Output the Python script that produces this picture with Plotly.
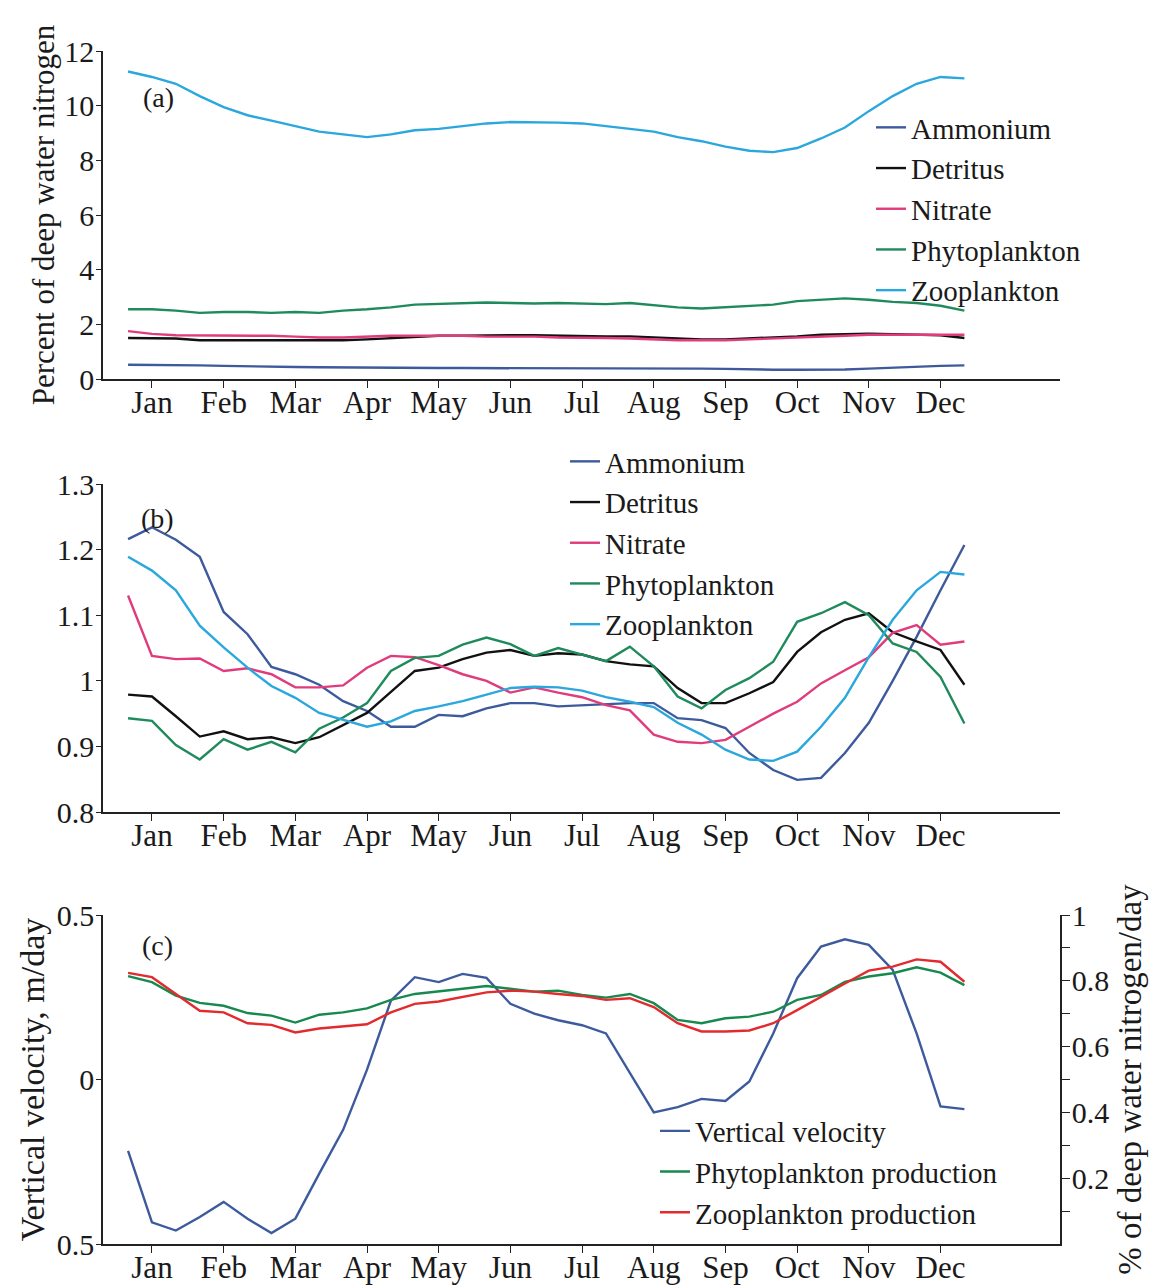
import plotly.graph_objects as go

W, H = 1159, 1288
FONT = "Liberation Serif, Times New Roman, serif"

# ---- data -------------------------------------------------------------
# 36 samples, every third of a month, starting a third of a month before Jan
n_pts = 36
x_months = [-1/3 + k/3 for k in range(n_pts)]
month_labels = ["Jan", "Feb", "Mar", "Apr", "May", "Jun",
                "Jul", "Aug", "Sep", "Oct", "Nov", "Dec"]
month_pos = list(range(12))

# Panel (a): percent of deep water nitrogen
a_ammonium = [0.52, 0.52, 0.50, 0.50, 0.48, 0.46, 0.45, 0.44, 0.43, 0.42, 0.41, 0.40,
              0.40, 0.40, 0.40, 0.40, 0.40, 0.40, 0.40, 0.40, 0.40, 0.39, 0.39, 0.38,
              0.38, 0.37, 0.35, 0.34, 0.34, 0.34, 0.35, 0.38, 0.42, 0.45, 0.48, 0.50]
a_detritus = [1.50, 1.50, 1.48, 1.42, 1.42, 1.42, 1.42, 1.40, 1.40, 1.42, 1.45, 1.50,
              1.55, 1.58, 1.58, 1.60, 1.60, 1.60, 1.58, 1.58, 1.56, 1.56, 1.52, 1.48,
              1.45, 1.45, 1.48, 1.52, 1.56, 1.62, 1.65, 1.66, 1.64, 1.62, 1.60, 1.50]
a_nitrate = [1.75, 1.65, 1.60, 1.60, 1.58, 1.58, 1.58, 1.55, 1.52, 1.52, 1.55, 1.58,
             1.58, 1.58, 1.58, 1.55, 1.55, 1.55, 1.52, 1.52, 1.50, 1.48, 1.45, 1.42,
             1.42, 1.42, 1.45, 1.48, 1.50, 1.55, 1.58, 1.62, 1.62, 1.62, 1.60, 1.62]
a_phyto = [2.55, 2.55, 2.50, 2.42, 2.45, 2.45, 2.42, 2.45, 2.42, 2.50, 2.55, 2.62,
           2.72, 2.75, 2.78, 2.80, 2.78, 2.76, 2.78, 2.76, 2.74, 2.78, 2.70, 2.62,
           2.58, 2.62, 2.68, 2.72, 2.85, 2.90, 2.95, 2.90, 2.82, 2.78, 2.68, 2.50]
a_zoo = [11.25, 11.05, 10.80, 10.35, 9.95, 9.65, 9.45, 9.25, 9.05, 8.95, 8.85, 8.95,
         9.10, 9.15, 9.25, 9.35, 9.40, 9.40, 9.38, 9.35, 9.25, 9.15, 9.05, 8.85,
         8.70, 8.50, 8.35, 8.30, 8.45, 8.80, 9.20, 9.80, 10.35, 10.80, 11.05, 11.00]

# Panel (b): normalised values
b_ammonium = [1.216, 1.234, 1.215, 1.189, 1.105, 1.071, 1.021, 1.010, 0.994, 0.969,
              0.954, 0.930, 0.930, 0.948, 0.946, 0.958, 0.966, 0.966, 0.961, 0.963,
              0.965, 0.966, 0.966, 0.943, 0.940, 0.928, 0.890, 0.864, 0.849, 0.852,
              0.890, 0.936, 1.000, 1.067, 1.138, 1.207]
b_detritus = [0.979, 0.976, 0.946, 0.915, 0.923, 0.911, 0.914, 0.905, 0.914, 0.933,
              0.951, 0.983, 1.015, 1.020, 1.033, 1.043, 1.047, 1.038, 1.042, 1.040,
              1.030, 1.025, 1.022, 0.989, 0.966, 0.966, 0.981, 0.998, 1.044, 1.074,
              1.093, 1.103, 1.074, 1.060, 1.047, 0.994]
b_nitrate = [1.130, 1.038, 1.033, 1.034, 1.015, 1.019, 1.010, 0.990, 0.990, 0.993,
             1.020, 1.038, 1.036, 1.024, 1.010, 1.000, 0.982, 0.990, 0.982, 0.975,
             0.963, 0.955, 0.918, 0.907, 0.905, 0.910, 0.930, 0.950, 0.968, 0.996,
             1.016, 1.036, 1.073, 1.085, 1.055, 1.060]
b_phyto = [0.943, 0.939, 0.902, 0.880, 0.911, 0.895, 0.907, 0.891, 0.927, 0.944,
           0.966, 1.015, 1.035, 1.038, 1.055, 1.066, 1.056, 1.038, 1.050, 1.040,
           1.030, 1.052, 1.022, 0.976, 0.958, 0.986, 1.004, 1.029, 1.090, 1.103,
           1.120, 1.100, 1.057, 1.044, 1.006, 0.935]
b_zoo = [1.189, 1.168, 1.138, 1.084, 1.051, 1.020, 0.992, 0.974, 0.951, 0.941,
         0.930, 0.938, 0.954, 0.961, 0.969, 0.979, 0.989, 0.991, 0.990, 0.985,
         0.975, 0.968, 0.960, 0.936, 0.918, 0.895, 0.880, 0.878, 0.892, 0.930,
         0.974, 1.036, 1.093, 1.138, 1.166, 1.162]

# Panel (c): vertical velocity (m/day, left axis) and production (% / day, right axis)
c_velocity = [-0.217, -0.434, -0.459, -0.418, -0.372, -0.423, -0.467, -0.423, -0.286, -0.153,
              0.030, 0.240, 0.311, 0.296, 0.321, 0.309, 0.230, 0.200, 0.180, 0.165,
              0.140, 0.020, -0.100, -0.084, -0.059, -0.065, -0.006, 0.140, 0.308, 0.404,
              0.426, 0.409, 0.333, 0.140, -0.082, -0.090]
c_phyto_prod = [0.814, 0.796, 0.755, 0.733, 0.724, 0.702, 0.694, 0.673, 0.697, 0.704,
                0.716, 0.742, 0.760, 0.767, 0.776, 0.784, 0.776, 0.767, 0.770, 0.757,
                0.749, 0.760, 0.732, 0.681, 0.671, 0.686, 0.691, 0.706, 0.742, 0.757,
                0.797, 0.813, 0.823, 0.841, 0.825, 0.787]
c_zoo_prod = [0.824, 0.811, 0.760, 0.709, 0.704, 0.671, 0.666, 0.643, 0.655, 0.661,
              0.668, 0.704, 0.730, 0.737, 0.750, 0.765, 0.770, 0.767, 0.760, 0.754,
              0.742, 0.747, 0.720, 0.671, 0.646, 0.646, 0.649, 0.671, 0.711, 0.752,
              0.792, 0.831, 0.843, 0.865, 0.858, 0.797]

# ---- styling ----------------------------------------------------------
C_AMM = "#3d5b9c"
C_DET = "#111111"
C_NIT = "#e03c7c"
C_PHY = "#1f8a5c"
C_ZOO = "#2aa7dc"
C_VEL = "#3d5b9c"
C_PPR = "#17894f"
C_ZPR = "#e12b2e"
LW = 2.4
TXT = "#1a1a1a"

def px_x(p):
    return p / W

def px_y(p):
    return 1 - p / H

X0, X1 = 103, 1060
panels = {
    "a": (51, 379),
    "b": (484, 812),
    "c": (915, 1244),
}

fig = go.Figure()

series_ab = [("Ammonium", C_AMM), ("Detritus", C_DET), ("Nitrate", C_NIT),
             ("Phytoplankton", C_PHY), ("Zooplankton", C_ZOO)]
a_vals = [a_ammonium, a_detritus, a_nitrate, a_phyto, a_zoo]
b_vals = [b_ammonium, b_detritus, b_nitrate, b_phyto, b_zoo]

for (name, col), vals in zip(series_ab, a_vals):
    fig.add_trace(go.Scatter(x=x_months, y=vals, mode="lines", name=name,
                             line=dict(color=col, width=LW),
                             xaxis="x", yaxis="y", legend="legend"))
for (name, col), vals in zip(series_ab, b_vals):
    fig.add_trace(go.Scatter(x=x_months, y=vals, mode="lines", name=name,
                             line=dict(color=col, width=LW),
                             xaxis="x2", yaxis="y2", legend="legend2"))

fig.add_trace(go.Scatter(x=x_months, y=c_velocity, mode="lines", name="Vertical velocity",
                         line=dict(color=C_VEL, width=LW),
                         xaxis="x3", yaxis="y3", legend="legend3"))
fig.add_trace(go.Scatter(x=x_months, y=c_phyto_prod, mode="lines", name="Phytoplankton production",
                         line=dict(color=C_PPR, width=LW),
                         xaxis="x3", yaxis="y4", legend="legend3"))
fig.add_trace(go.Scatter(x=x_months, y=c_zoo_prod, mode="lines", name="Zooplankton production",
                         line=dict(color=C_ZPR, width=LW),
                         xaxis="x3", yaxis="y4", legend="legend3"))

xtickfont = dict(family=FONT, size=31, color=TXT)
ytickfont = dict(family=FONT, size=30, color=TXT)
xrange = [-0.683, 12.667]

def xaxis(anchor):
    return dict(domain=[px_x(X0), px_x(X1)], anchor=anchor, range=xrange,
                tickmode="array", tickvals=month_pos, ticktext=month_labels,
                ticks="outside", ticklen=7, tickwidth=1.3, tickcolor="#222",
                ticklabelstandoff=-12,
                showline=True, linecolor="#222", linewidth=1.6,
                showgrid=False, zeroline=False, tickfont=xtickfont,
                automargin=False)

def yaxis_common():
    return dict(ticks="outside", ticklen=5, tickwidth=1.3, tickcolor="#222",
                ticklabelstandoff=-4,
                showline=True, linecolor="#222", linewidth=1.6,
                showgrid=False, zeroline=False, tickfont=ytickfont,
                automargin=False)

def ydom(key):
    t, b = panels[key]
    return [px_y(b), px_y(t)]

legend_font = dict(family=FONT, size=29, color=TXT)
leg_common = dict(xanchor="left", yanchor="middle", font=legend_font,
                  bgcolor="rgba(0,0,0,0)", itemwidth=30, tracegroupgap=0,
                  traceorder="normal", borderwidth=0)

fig.update_layout(
    template="none",
    width=W, height=H,
    margin=dict(l=0, r=0, t=0, b=0, pad=0, autoexpand=False),
    paper_bgcolor="white", plot_bgcolor="white",
    font=dict(family=FONT, color=TXT),
    xaxis=xaxis("y"),
    xaxis2=xaxis("y2"),
    xaxis3=xaxis("y3"),
    yaxis=dict(domain=ydom("a"), anchor="x", range=[0, 12],
               tickmode="array", tickvals=[0, 2, 4, 6, 8, 10, 12],
               title=dict(text="Percent of deep water nitrogen",
                          font=dict(family=FONT, size=31, color=TXT), standoff=0),
               **yaxis_common()),
    yaxis2=dict(domain=ydom("b"), anchor="x2", range=[0.8, 1.3],
                tickmode="array", tickvals=[0.8, 0.9, 1.0, 1.1, 1.2, 1.3],
                ticktext=["0.8", "0.9", "1", "1.1", "1.2", "1.3"],
                **yaxis_common()),
    yaxis3=dict(domain=ydom("c"), anchor="x3", range=[-0.5, 0.5],
                tickmode="array", tickvals=[-0.5, 0, 0.5],
                ticktext=["0.5", "0", "0.5"],
                title=dict(text="Vertical velocity, m/day",
                           font=dict(family=FONT, size=34, color=TXT), standoff=2),
                **yaxis_common()),
    yaxis4=dict(domain=ydom("c"), anchor="x3", overlaying="y3", side="right",
                range=[0, 1],
                tickmode="array",
                tickvals=[0.1, 0.2, 0.3, 0.4, 0.5, 0.6, 0.7, 0.8, 0.9, 1.0],
                ticktext=["", "0.2", "", "0.4", "", "0.6", "", "0.8", "", "1"],
                title=dict(text="% of deep water nitrogen/day",
                           font=dict(family=FONT, size=33, color=TXT), standoff=10),
                **{**yaxis_common(), "ticklen": 8}),
    legend=dict(x=px_x(871), y=px_y(209), **leg_common),
    legend2=dict(x=px_x(565), y=px_y(543), **leg_common),
    legend3=dict(x=px_x(655), y=px_y(1172), **leg_common),
    showlegend=True,
)

panel_tags = [("(a)", 158, 97), ("(b)", 157, 518), ("(c)", 157, 945)]
for text, px, py in panel_tags:
    fig.add_annotation(text=text, x=px_x(px), y=px_y(py), xref="paper", yref="paper",
                       xanchor="center", yanchor="middle", showarrow=False,
                       font=dict(family=FONT, size=28, color=TXT))

fig.write_html("out.html")
